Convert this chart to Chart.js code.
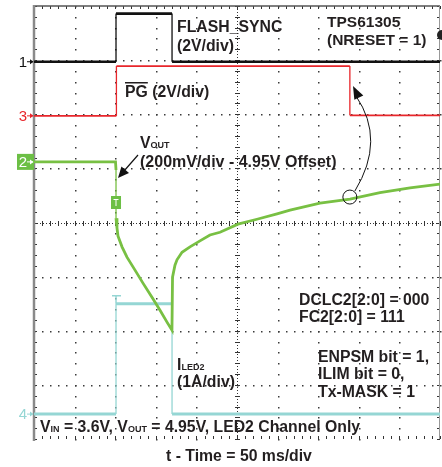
<!DOCTYPE html>
<html lang="en">
<head>
  <meta charset="UTF-8">
  <title>TPS61305 flash sync</title>
  <script src="https://cdn.jsdelivr.net/npm/chart.js"></script>
  <style>
    html, body { margin: 0; padding: 0; background: #fff; }
    canvas { display: block; }
  </style>
</head>
<body>
  <canvas id="scope" width="442" height="467"></canvas>

  <script>
    // time in ms (50 ms/div, 10 div); traces in screen divisions (0 = bottom, 8 = top)
    const flashT = [0, 101, 101, 170, 170, 500];
    const flashY = [6.97, 6.97, 7.86, 7.86, 6.97, 6.97];

    const pgT = [0, 101.5, 101.5, 389, 389, 500];
    const pgY = [5.97, 5.97, 6.89, 6.89, 5.98, 5.98];

    const voutT = [0, 100.4, 101, 101, 102.2, 103.4, 108.4, 114.5, 124.4, 134.2, 145.3, 155.2, 163.8, 169.9,
                   170.6, 173.6, 176.1, 182.3, 192.1, 204.4, 216.7, 229.1, 251.2, 274.6, 299.3, 315.3,
                   352.2, 389.2, 426.1, 463.1, 500];
    const voutY = [5.12, 5.12, 4.97, 4.08, 3.90, 3.75, 3.55, 3.36, 3.12, 2.88, 2.62, 2.38, 2.16, 2.01,
                   2.99, 3.21, 3.31, 3.45, 3.55, 3.66, 3.77, 3.82, 3.97, 4.06, 4.16, 4.23,
                   4.36, 4.43, 4.55, 4.64, 4.71];

    const iledT = [0, 101, 101, 170, 170, 500];
    const iledY = [0.46, 0.46, 2.50, 2.50, 0.46, 0.46];

    // channel ground markers on the left edge
    const markerNames = ['1', '3', '2', '4'];
    const markerLevels = [6.97, 5.97, 5.12, 0.46];
    const markerColors = ['#111111', '#e8262b', '#6cbf45', '#95d6d4'];

    const TEXT = '#231f20';
    const FONT = '"Liberation Sans", Arial, sans-serif';
    const SIZE = 15.8;

    function trace(label, xs, ys, color, width) {
      return {
        label,
        data: xs.map((t, i) => ({ x: t, y: ys[i] })),
        borderColor: color,
        borderWidth: width,
        pointRadius: 0,
        tension: 0,
        segment: {
          // scope edges render thinner than the settled levels
          borderWidth: c => c.p0.parsed.x === c.p1.parsed.x ? 1.3 : undefined
        }
      };
    }

    function runs(ctx, x, y, parts) {
      // parts: [text, size, dy]
      parts.forEach(([s, size, dy]) => {
        ctx.font = 'bold ' + size + 'px ' + FONT;
        ctx.fillText(s, x, y + (dy || 0));
        x += ctx.measureText(s).width;
      });
      return x;
    }

    function arrowHead(ctx, tx, ty, fx, fy, len, half) {
      const a = Math.atan2(ty - fy, tx - fx);
      ctx.beginPath();
      ctx.moveTo(tx, ty);
      ctx.lineTo(tx - len * Math.cos(a) + half * Math.sin(a), ty - len * Math.sin(a) - half * Math.cos(a));
      ctx.lineTo(tx - len * Math.cos(a) - half * Math.sin(a), ty - len * Math.sin(a) + half * Math.cos(a));
      ctx.closePath();
      ctx.fill();
    }

    const scopeGrid = {
      id: 'scopeGrid',
      beforeDatasetsDraw(chart) {
        const { ctx, chartArea: a, scales: { x, y } } = chart;
        ctx.save();
        ctx.fillStyle = '#3a3a3a';
        // dotted major lines, one dot per minor step
        for (let i = 1; i < 10; i++) {
          if (i === 5) continue;
          const px = Math.round(x.getPixelForValue(i * 50));
          for (let j = 0; j <= 40; j++) ctx.fillRect(px, Math.round(y.getPixelForValue(j * 0.2)), 1.5, 1.5);
        }
        for (let j = 1; j < 8; j++) {
          if (j === 4) continue;
          const py = Math.round(y.getPixelForValue(j));
          for (let i = 0; i <= 50; i++) ctx.fillRect(Math.round(x.getPixelForValue(i * 10)), py, 1.5, 1.5);
        }
        // centre cross with minor ticks
        const cx = Math.round(x.getPixelForValue(250)) + 0.5;
        const cy = Math.round(y.getPixelForValue(4)) + 0.5;
        ctx.strokeStyle = '#333';
        ctx.lineWidth = 1;
        ctx.setLineDash([1, 2]);
        ctx.beginPath();
        ctx.moveTo(a.left, cy); ctx.lineTo(a.right, cy);
        ctx.moveTo(cx, a.top); ctx.lineTo(cx, a.bottom);
        ctx.stroke();
        ctx.setLineDash([]);
        ctx.beginPath();
        for (let i = 0; i <= 50; i++) {
          const px = Math.round(x.getPixelForValue(i * 10)) + 0.5;
          ctx.moveTo(px, cy - 2.5); ctx.lineTo(px, cy + 2.5);
          ctx.moveTo(px, a.top); ctx.lineTo(px, a.top + 3);
          ctx.moveTo(px, a.bottom); ctx.lineTo(px, a.bottom - 3);
        }
        for (let j = 0; j <= 40; j++) {
          const py = Math.round(y.getPixelForValue(j * 0.2)) + 0.5;
          ctx.moveTo(cx - 2.5, py); ctx.lineTo(cx + 2.5, py);
          ctx.moveTo(a.left, py); ctx.lineTo(a.left + 3, py);
          ctx.moveTo(a.right, py); ctx.lineTo(a.right - 3, py);
        }
        ctx.stroke();
        // frame
        ctx.strokeStyle = '#555';
        ctx.lineWidth = 1.5;
        ctx.beginPath();
        ctx.moveTo(a.left, a.top); ctx.lineTo(a.right, a.top);
        ctx.stroke();
        ctx.strokeStyle = '#999';
        ctx.lineWidth = 1;
        ctx.beginPath();
        ctx.moveTo(a.right - 0.5, a.top); ctx.lineTo(a.right - 0.5, a.bottom);
        ctx.stroke();
        ctx.strokeStyle = '#8a8a8a';
        ctx.lineWidth = 2.5;
        ctx.beginPath();
        ctx.moveTo(a.left, a.top - 1); ctx.lineTo(a.left, a.bottom + 2);
        ctx.stroke();
        ctx.restore();
      },
      afterDatasetsDraw(chart) {
        const { ctx, chartArea: a, scales: { x, y } } = chart;
        ctx.save();

        // channel markers
        markerNames.forEach((n, i) => {
          const py = y.getPixelForValue(markerLevels[i]);
          if (n === '2') {
            ctx.fillStyle = markerColors[i];
            ctx.fillRect(a.left - 17, py - 8, 17, 16);
            ctx.fillStyle = '#fff';
            ctx.strokeStyle = '#fff';
          } else {
            ctx.fillStyle = markerColors[i];
            ctx.strokeStyle = markerColors[i];
          }
          ctx.font = '15px "Liberation Sans Narrow", "Liberation Sans", sans-serif';
          ctx.textAlign = 'right';
          ctx.textBaseline = 'middle';
          ctx.fillText(n, a.left - 7, py + 1);
          ctx.lineWidth = 1;
          ctx.beginPath();
          ctx.moveTo(a.left - 7, py); ctx.lineTo(a.left - 1, py);
          ctx.stroke();
          arrowHead(ctx, a.left - 0.5, py, a.left - 7, py, 3.5, 2.5);
        });

        // trigger markers
        const tx = x.getPixelForValue(101);
        ctx.fillStyle = '#6cbf45';
        ctx.fillRect(tx - 5, 196, 10, 13);
        ctx.strokeStyle = '#fff';
        ctx.lineWidth = 1;
        ctx.beginPath();
        ctx.moveTo(tx - 2.5, 199.5); ctx.lineTo(tx + 2.5, 199.5);
        ctx.moveTo(tx, 199.5); ctx.lineTo(tx, 206);
        ctx.stroke();
        const iy = y.getPixelForValue(2.5);
        ctx.strokeStyle = '#95d6d4';
        ctx.lineWidth = 1.5;
        ctx.beginPath();
        ctx.moveTo(tx - 4, iy - 8); ctx.lineTo(tx + 5, iy - 8);
        ctx.moveTo(tx, iy - 8); ctx.lineTo(tx, iy);
        ctx.stroke();
        // trigger level marker (clipped at right edge)
        ctx.fillStyle = '#222';
        ctx.beginPath();
        ctx.arc(442, 35, 5, Math.PI / 2, Math.PI * 1.5);
        ctx.fill();

        // annotation text
        ctx.fillStyle = TEXT;
        ctx.textAlign = 'left';
        ctx.textBaseline = 'alphabetic';
        runs(ctx, 177, 32, [['FLASH_SYNC', SIZE]]);
        runs(ctx, 177, 51, [['(2V/div)', SIZE]]);
        runs(ctx, 327, 27, [['TPS61305', 15.5]]);
        runs(ctx, 327, 45, [['(NRESET = 1)', 15.5]]);
        ctx.font = 'bold ' + SIZE + 'px ' + FONT;
        const pgW = ctx.measureText('PG').width;
        runs(ctx, 125, 97, [['PG (2V/div)', SIZE]]);
        ctx.fillRect(125, 82, pgW, 1.5);
        runs(ctx, 140, 148, [['V', SIZE], ['OUT', 9, 0]]);
        runs(ctx, 140, 167, [['(200mV/div - 4.95V Offset)', 16]]);
        runs(ctx, 177, 370, [['I', SIZE], ['LED2', 9, 0]]);
        runs(ctx, 177, 387, [['(1A/div)', SIZE]]);
        runs(ctx, 299, 305, [['DCLC2[2:0] = 000', SIZE]]);
        runs(ctx, 299, 322, [['FC2[2:0] = 111', SIZE]]);
        runs(ctx, 318, 362, [['ENPSM bit = 1,', SIZE]]);
        runs(ctx, 318, 379, [['ILIM bit = 0,', SIZE]]);
        runs(ctx, 318, 397, [['Tx-MASK = 1', SIZE]]);
        runs(ctx, 40, 432, [['V', SIZE], ['IN', 9, 0], [' = 3.6V, V', SIZE], ['OUT', 9, 0],
                            [' = 4.95V, LED2 Channel Only', SIZE]]);
        runs(ctx, 166, 461, [['t - Time = 50 ms/div', SIZE]]);

        // arrow to the VOUT droop
        ctx.strokeStyle = '#111';
        ctx.fillStyle = '#111';
        ctx.lineWidth = 1.2;
        ctx.beginPath();
        ctx.moveTo(138, 155); ctx.lineTo(124, 171);
        ctx.stroke();
        arrowHead(ctx, 118, 178, 138, 155, 11, 5);

        // circle on VOUT and curved arrow to the PG edge
        const ox = x.getPixelForValue(389), oy = y.getPixelForValue(4.47);
        ctx.lineWidth = 1;
        ctx.beginPath();
        ctx.arc(ox, oy, 7, 0, Math.PI * 2);
        ctx.stroke();
        ctx.beginPath();
        ctx.moveTo(ox + 5, oy - 6);
        ctx.quadraticCurveTo(386, 140, 356, 96);
        ctx.stroke();
        arrowHead(ctx, 353, 86, 360, 100, 13, 5);

        ctx.restore();
      }
    };

    new Chart(document.getElementById('scope'), {
      type: 'line',
      data: {
        datasets: [
          trace('FLASH_SYNC', flashT, flashY, '#111111', 2.6),
          trace('PG', pgT, pgY, '#e8262b', 1.8),
          trace('VOUT', voutT, voutY, '#78c043', 2.8),
          trace('ILED2', iledT, iledY, '#95d6d4', 3)
        ]
      },
      options: {
        responsive: false,
        animation: false,
        devicePixelRatio: 1,
        layout: { padding: { left: 34, top: 6, right: 2, bottom: 28 } },
        scales: {
          x: { type: 'linear', min: 0, max: 500, display: false },
          y: { type: 'linear', min: 0, max: 8, display: false }
        },
        plugins: { legend: { display: false }, tooltip: { enabled: false } }
      },
      plugins: [scopeGrid]
    });
  </script>
</body>
</html>
